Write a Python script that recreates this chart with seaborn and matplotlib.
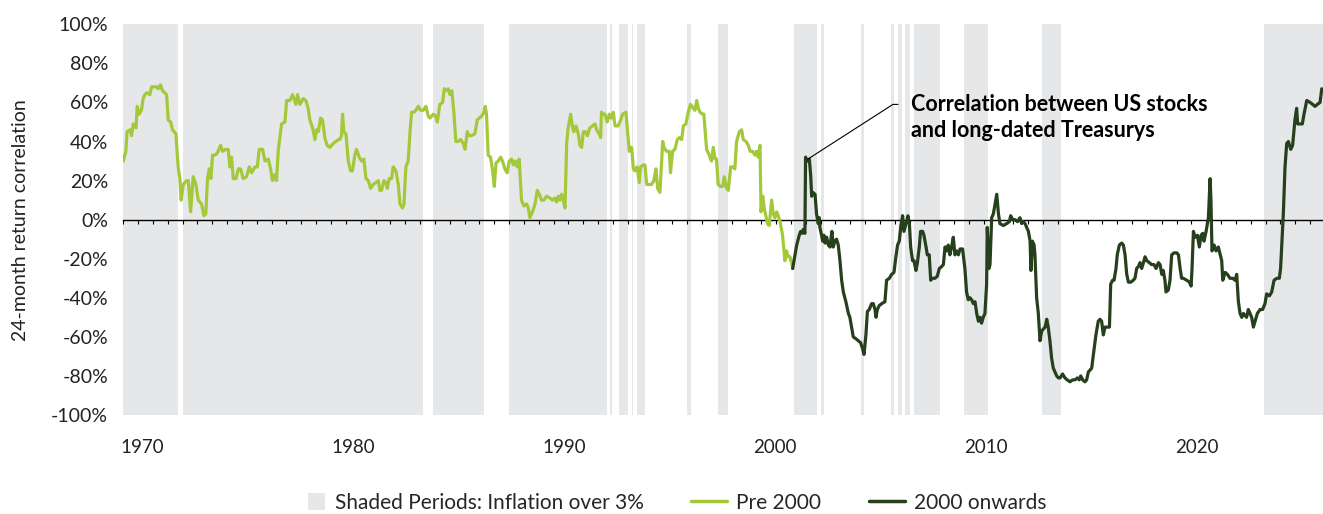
import numpy as np
import pandas as pd
import seaborn as sns
import matplotlib
matplotlib.use("Agg")
import matplotlib.pyplot as plt
import matplotlib.patches as mpatches
from matplotlib.lines import Line2D
from matplotlib.legend_handler import HandlerPatch

# ---- data (x in axis-label years, y in % correlation) ----
pre_years = [
    1969.12, 1969.24, 1969.30, 1969.43, 1969.51, 1969.59, 1969.72, 1969.78, 1969.87, 1969.98,
    1970.06, 1970.14, 1970.25, 1970.38, 1970.46, 1970.57, 1970.70, 1970.77, 1970.88, 1970.98,
    1971.17, 1971.25, 1971.36, 1971.45, 1971.61, 1971.72, 1971.80, 1971.86, 1971.96, 1972.12,
    1972.20, 1972.31, 1972.43, 1972.56, 1972.67, 1972.83, 1972.94, 1973.03, 1973.11, 1973.19,
    1973.27, 1973.35, 1973.46, 1973.57, 1973.73, 1973.82, 1973.98, 1974.09, 1974.17, 1974.25,
    1974.33, 1974.46, 1974.57, 1974.68, 1974.80, 1974.96, 1975.09, 1975.20, 1975.36, 1975.47,
    1975.56, 1975.72, 1975.83, 1975.99, 1976.10, 1976.19, 1976.30, 1976.38, 1976.46, 1976.62,
    1976.78, 1976.86, 1977.01, 1977.14, 1977.30, 1977.38, 1977.49, 1977.65, 1977.77, 1977.88,
    1977.96, 1978.09, 1978.20, 1978.28, 1978.36, 1978.47, 1978.56, 1978.67, 1978.78, 1978.91,
    1979.07, 1979.19, 1979.30, 1979.38, 1979.46, 1979.51, 1979.57, 1979.67, 1979.78, 1979.89,
    1979.98, 1980.09, 1980.17, 1980.30, 1980.41, 1980.52, 1980.62, 1980.73, 1980.84, 1980.96,
    1981.09, 1981.20, 1981.28, 1981.36, 1981.47, 1981.56, 1981.63, 1981.72, 1981.83, 1981.91,
    1982.04, 1982.15, 1982.23, 1982.35, 1982.42, 1982.51, 1982.62, 1982.70, 1982.78, 1982.89,
    1982.99, 1983.10, 1983.21, 1983.33, 1983.46, 1983.57, 1983.65, 1983.81, 1983.93, 1984.00,
    1984.12, 1984.25, 1984.33, 1984.44, 1984.52, 1984.60, 1984.69, 1984.79, 1984.88, 1984.99,
    1985.10, 1985.23, 1985.31, 1985.42, 1985.51, 1985.62, 1985.78, 1985.89, 1985.99, 1986.10,
    1986.21, 1986.27, 1986.33, 1986.41, 1986.52, 1986.62, 1986.70, 1986.78, 1986.89, 1987.00,
    1987.09, 1987.20, 1987.31, 1987.41, 1987.52, 1987.60, 1987.69, 1987.79, 1987.88, 1987.99,
    1988.10, 1988.23, 1988.31, 1988.39, 1988.51, 1988.63, 1988.74, 1988.83, 1988.94, 1989.05,
    1989.18, 1989.34, 1989.46, 1989.57, 1989.65, 1989.73, 1989.81, 1989.89, 1989.97, 1990.05,
    1990.13, 1990.20, 1990.32, 1990.41, 1990.47, 1990.57, 1990.68, 1990.76, 1990.84, 1990.92,
    1991.04, 1991.11, 1991.23, 1991.36, 1991.47, 1991.55, 1991.67, 1991.74, 1991.78, 1991.86,
    1991.94, 1992.05, 1992.15, 1992.23, 1992.34, 1992.42, 1992.57, 1992.69, 1992.78, 1992.94,
    1993.00, 1993.10, 1993.21, 1993.29, 1993.36, 1993.47, 1993.57, 1993.63, 1993.76, 1993.84,
    1993.92, 1994.04, 1994.15, 1994.26, 1994.36, 1994.44, 1994.55, 1994.68, 1994.74, 1994.86,
    1994.99, 1995.05, 1995.15, 1995.26, 1995.37, 1995.47, 1995.58, 1995.66, 1995.78, 1995.89,
    1996.00, 1996.13, 1996.21, 1996.29, 1996.37, 1996.45, 1996.57, 1996.63, 1996.76, 1996.89,
    1996.99, 1997.08, 1997.16, 1997.23, 1997.31, 1997.42, 1997.52, 1997.60, 1997.71, 1997.79,
    1997.90, 1997.99, 1998.10, 1998.18, 1998.31, 1998.42, 1998.50, 1998.63, 1998.74, 1998.82,
    1998.94, 1999.05, 1999.13, 1999.21, 1999.29, 1999.34, 1999.42, 1999.49, 1999.57, 1999.64,
    1999.73, 1999.84, 1999.92, 2000.00, 2000.08, 2000.16, 2000.24, 2000.36, 2000.47, 2000.55,
    2000.63, 2000.71, 2000.79, 2000.84,
]
pre_corr = [
    30, 35, 45, 46, 43, 49, 47, 58, 54, 56,
    62, 64, 65, 64, 68, 68, 68, 67, 69, 66,
    64, 51, 50, 46, 44, 27, 21, 10, 18, 20,
    20, 4, 22, 18, 10, 8, 2, 3, 21, 26,
    21, 33, 33, 34, 38, 35, 36, 36, 27, 32,
    21, 21, 26, 26, 21, 22, 27, 24, 27, 27,
    36, 36, 30, 31, 26, 20, 23, 20, 35, 49,
    50, 61, 61, 64, 59, 64, 59, 62, 61, 57,
    51, 47, 41, 46, 45, 52, 51, 42, 38, 37,
    39, 40, 41, 41, 43, 54, 45, 44, 30, 25,
    25, 33, 36, 32, 30, 31, 21, 20, 16, 18,
    19, 20, 15, 15, 20, 19, 16, 21, 21, 27,
    25, 18, 8, 6, 8, 27, 30, 44, 55, 55,
    56, 58, 56, 56, 58, 53, 52, 54, 53, 50,
    59, 60, 67, 66, 67, 64, 66, 54, 40, 40,
    41, 39, 36, 45, 43, 43, 44, 51, 52, 53,
    55, 58, 54, 33, 32, 25, 17, 29, 30, 32,
    30, 26, 24, 30, 31, 28, 30, 27, 31, 10,
    7, 8, 6, 1, 4, 8, 15, 13, 10, 10,
    12, 11, 10, 11, 9, 12, 10, 13, 10, 6,
    39, 47, 54, 47, 45, 48, 44, 38, 37, 45,
    45, 43, 47, 48, 49, 46, 44, 42, 55, 54,
    54, 50, 54, 52, 55, 48, 48, 51, 54, 55,
    47, 35, 37, 26, 25, 27, 19, 27, 28, 28,
    18, 18, 18, 20, 26, 16, 14, 40, 37, 35,
    35, 24, 35, 36, 41, 42, 41, 48, 49, 55,
    59, 57, 56, 61, 57, 55, 54, 54, 36, 33,
    30, 37, 31, 31, 18, 17, 17, 22, 16, 15,
    27, 27, 26, 40, 45, 46, 41, 40, 38, 35,
    35, 33, 35, 32, 38, 4, 12, 6, 2, -2,
    -3, 10, 3, 1, 4, 2, -1, -8, -21, -16,
    -19, -19, -22, -25,
]

post_years = [
    2000.84, 2000.95, 2001.03, 2001.15, 2001.22, 2001.30, 2001.34, 2001.42, 2001.45, 2001.53,
    2001.58, 2001.63, 2001.69, 2001.74, 2001.79, 2001.90, 2001.97, 2002.05, 2002.10, 2002.13,
    2002.21, 2002.26, 2002.32, 2002.37, 2002.45, 2002.53, 2002.61, 2002.65, 2002.70, 2002.76,
    2002.84, 2002.92, 2003.00, 2003.08, 2003.16, 2003.24, 2003.36, 2003.48, 2003.55, 2003.63,
    2003.71, 2003.84, 2003.95, 2004.06, 2004.15, 2004.22, 2004.31, 2004.38, 2004.47, 2004.58,
    2004.66, 2004.74, 2004.79, 2004.85, 2004.94, 2005.06, 2005.21, 2005.29, 2005.42, 2005.53,
    2005.64, 2005.73, 2005.81, 2005.89, 2005.97, 2006.05, 2006.11, 2006.16, 2006.24, 2006.30,
    2006.37, 2006.43, 2006.52, 2006.59, 2006.68, 2006.75, 2006.84, 2006.90, 2007.00, 2007.06,
    2007.16, 2007.22, 2007.31, 2007.38, 2007.47, 2007.58, 2007.69, 2007.79, 2007.90, 2007.98,
    2008.06, 2008.14, 2008.21, 2008.29, 2008.37, 2008.45, 2008.53, 2008.61, 2008.69, 2008.77,
    2008.89, 2009.00, 2009.08, 2009.16, 2009.24, 2009.32, 2009.40, 2009.48, 2009.56, 2009.64,
    2009.72, 2009.79, 2009.87, 2009.95, 2010.03, 2010.06, 2010.14, 2010.19, 2010.27, 2010.35,
    2010.43, 2010.51, 2010.59, 2010.66, 2010.82, 2010.98, 2011.11, 2011.17, 2011.26, 2011.37,
    2011.49, 2011.61, 2011.69, 2011.77, 2011.85, 2011.93, 2012.01, 2012.09, 2012.13, 2012.20,
    2012.28, 2012.32, 2012.40, 2012.48, 2012.56, 2012.64, 2012.72, 2012.80, 2012.88, 2012.95,
    2013.03, 2013.11, 2013.19, 2013.27, 2013.35, 2013.43, 2013.51, 2013.63, 2013.74, 2013.85,
    2013.98, 2014.11, 2014.22, 2014.33, 2014.42, 2014.49, 2014.58, 2014.69, 2014.77, 2014.85,
    2014.93, 2015.01, 2015.09, 2015.21, 2015.32, 2015.40, 2015.48, 2015.56, 2015.64, 2015.72,
    2015.85, 2015.91, 2016.00, 2016.07, 2016.16, 2016.22, 2016.32, 2016.43, 2016.51, 2016.59,
    2016.67, 2016.75, 2016.86, 2016.98, 2017.06, 2017.14, 2017.22, 2017.30, 2017.38, 2017.46,
    2017.54, 2017.62, 2017.74, 2017.85, 2017.96, 2018.06, 2018.17, 2018.25, 2018.33, 2018.40,
    2018.48, 2018.53, 2018.64, 2018.72, 2018.80, 2018.91, 2019.04, 2019.12, 2019.20, 2019.27,
    2019.35, 2019.51, 2019.64, 2019.72, 2019.76, 2019.83, 2019.91, 2020.02, 2020.11, 2020.19,
    2020.27, 2020.33, 2020.43, 2020.54, 2020.62, 2020.66, 2020.71, 2020.81, 2020.90, 2021.01,
    2021.17, 2021.22, 2021.33, 2021.44, 2021.56, 2021.69, 2021.80, 2021.88, 2021.96, 2022.04,
    2022.12, 2022.20, 2022.27, 2022.35, 2022.43, 2022.51, 2022.59, 2022.67, 2022.75, 2022.86,
    2022.99, 2023.11, 2023.22, 2023.30, 2023.43, 2023.54, 2023.65, 2023.78, 2023.90, 2023.96,
    2024.01, 2024.09, 2024.17, 2024.25, 2024.33, 2024.44, 2024.53, 2024.64, 2024.72, 2024.77,
    2024.88, 2024.99, 2025.07, 2025.20, 2025.36, 2025.48, 2025.59, 2025.70, 2025.83, 2025.91,
]
post_corr = [
    -25, -18, -13, -8, -6, -7, -5, -7, 32, 30,
    30, 31, 23, 12, 14, 13, 3, -2, 1, -4,
    -8, -11, -8, -12, -9, -13, -14, -10, -6, -14,
    -11, -10, -13, -21, -31, -37, -42, -48, -50, -55,
    -60, -61, -62, -63, -66, -69, -59, -47, -46, -43,
    -43, -46, -50, -46, -44, -43, -42, -31, -30, -28,
    -27, -19, -13, -11, -3, 2, -6, -4, -1, 2,
    -2, -14, -21, -21, -26, -22, -14, -6, -6, -8,
    -14, -18, -18, -31, -30, -30, -29, -25, -24, -23,
    -14, -16, -13, -18, -14, -9, -18, -16, -18, -15,
    -15, -25, -37, -41, -40, -41, -43, -42, -48, -52,
    -50, -53, -50, -48, -33, -4, -25, -23, 1, 3,
    8, 13, 3, -2, -3, -2, -1, 2, 0, 0,
    -1, 1, -2, -1, -2, -4, -6, -11, -26, -11,
    -13, -18, -40, -48, -62, -57, -56, -55, -51, -55,
    -62, -71, -76, -78, -80, -81, -81, -79, -81, -82,
    -83, -82, -82, -81, -82, -80, -82, -83, -82, -78,
    -77, -76, -69, -59, -52, -51, -52, -59, -55, -55,
    -55, -33, -31, -31, -25, -18, -13, -12, -13, -18,
    -28, -32, -32, -31, -30, -25, -24, -22, -25, -22,
    -19, -21, -22, -23, -23, -25, -22, -23, -28, -26,
    -31, -37, -36, -31, -18, -17, -17, -18, -25, -30,
    -30, -31, -32, -34, -26, -6, -9, -8, -14, -8,
    -7, -11, -6, 1, 21, 10, -16, -13, -16, -14,
    -21, -31, -27, -28, -30, -30, -31, -28, -42, -48,
    -50, -48, -49, -50, -46, -48, -50, -55, -52, -48,
    -46, -46, -43, -38, -39, -37, -31, -30, -30, -25,
    -14, 3, 27, 39, 40, 36, 38, 51, 57, 49,
    49, 49, 54, 61, 60, 59, 58, 59, 60, 67,
]

# shaded periods (inflation over 3%)
shade_start = [1969.12, 1971.96, 1983.78, 1987.39, 1992.20, 1992.59, 1993.21, 1993.45, 1995.82,
               1997.31, 2000.92, 2002.17, 2004.08, 2005.52, 2005.84, 2006.16, 2006.60, 2008.97,
               2012.65, 2023.18]
shade_end = [1971.72, 1983.30, 1986.21, 1992.05, 1992.27, 1993.03, 1993.28, 1993.82, 1996.00,
             1997.76, 2001.98, 2002.32, 2004.22, 2005.62, 2006.01, 2006.40, 2007.80, 2010.08,
             2013.55, 2025.97]

year_ticks = [1970, 1980, 1990, 2000, 2010, 2020]
pct_ticks = [100, 80, 60, 40, 20, 0, -20, -40, -60, -80, -100]

# annotation leader line: peak point -> elbow -> end
ann_x = [2001.56, 2005.59, 2005.83]
ann_y = [31, 59, 59]
ann_text = "Correlation between US stocks\nand long-dated Treasurys"

light_green = "#A3C93A"
dark_green = "#263F1D"
shade_color = "#E6E7E9"

df = pd.concat([
    pd.DataFrame({"year": pre_years, "corr": pre_corr, "series": "Pre 2000"}),
    pd.DataFrame({"year": post_years, "corr": post_corr, "series": "2000 onwards"}),
])

sns.set_theme(style="white")
plt.rcParams["font.family"] = ["Lato", "DejaVu Sans"]

fig = plt.figure(figsize=(13.23, 5.14), dpi=100)
ax = fig.add_axes([0.0932, 0.1926, 0.9068, 0.7601])

for s, e in zip(shade_start, shade_end):
    ax.axvspan(s, e, color=shade_color, lw=0, zorder=0)

sns.lineplot(data=df, x="year", y="corr", hue="series",
             palette={"Pre 2000": light_green, "2000 onwards": dark_green},
             linewidth=2.3, legend=False, ax=ax, zorder=3)

ax.set_xlim(1969.12, 2025.97)
ax.set_ylim(-100, 100)
for sp in ax.spines.values():
    sp.set_visible(False)

ax.set_xticks(year_ticks)
ax.set_xticklabels([str(y) for y in year_ticks])
ax.set_yticks(pct_ticks)
ax.set_yticklabels([f"{p}%" for p in pct_ticks])
ax.tick_params(axis="x", length=0, pad=17, labelsize=13.5, colors="#222222")
ax.tick_params(axis="y", length=0, pad=11, labelsize=14, colors="#222222")
ax.set_xlabel("")
ax.set_ylabel("24-month return correlation", fontsize=14, color="#222222")
ax.yaxis.set_label_coords(-0.079, 0.5)

# zero line with small ticks
zero = ax.secondary_xaxis(0.5)
zero.set_alignment("bottom")
zero.set_xticks(np.arange(1969.12, 2025.97, 0.703))
zero.tick_params(direction="out", length=3, width=0.8, color="black", labelbottom=False, labeltop=False)
for sp in zero.spines.values():
    sp.set_color("black")
    sp.set_linewidth(1.0)

ax.plot(ann_x, ann_y, color="black", lw=0.8, zorder=4)
ax.text(2006.45, 52.5, ann_text, fontsize=15.5, fontweight="bold", ha="left", va="center",
        linespacing=1.3, color="black")


def square_patch(legend, orig_handle, xdescent, ydescent, width, height, fontsize):
    sq = height * 1.15
    return mpatches.Rectangle((-xdescent + width - sq, -ydescent + (height - sq) / 2), sq, sq)


handles = [mpatches.Patch(facecolor=shade_color, edgecolor="none"),
           Line2D([], [], color=light_green, lw=2.5),
           Line2D([], [], color=dark_green, lw=2.5)]
labels = ["Shaded Periods: Inflation over 3%", "Pre 2000", "2000 onwards"]
fig.legend(handles, labels, loc="center", bbox_to_anchor=(0.505, 0.022), ncol=3, frameon=False,
           handlelength=1.7, handletextpad=0.45, columnspacing=2.3,
           handler_map={mpatches.Patch: HandlerPatch(patch_func=square_patch)},
           prop={"family": ["Lato"], "size": 15})

fig.savefig("out.png", dpi=100)
